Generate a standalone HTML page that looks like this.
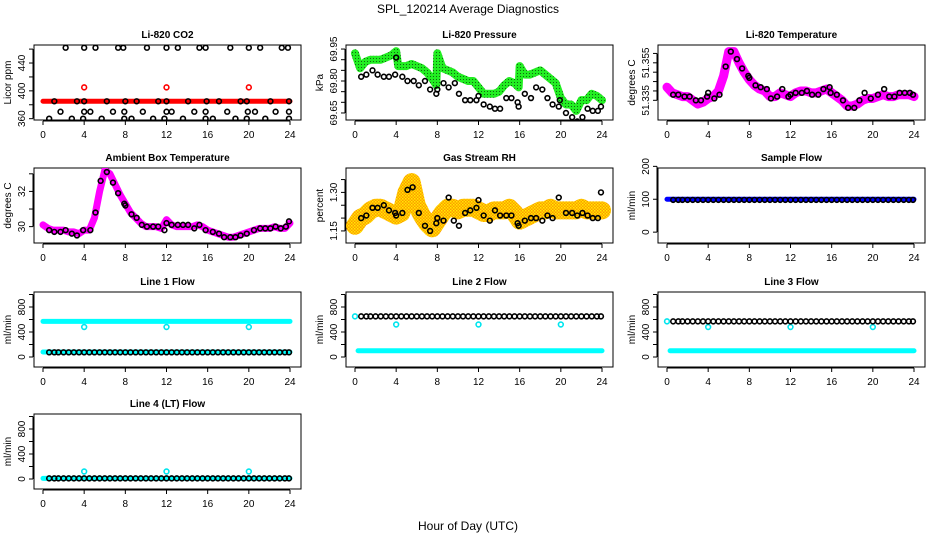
<!DOCTYPE html>
<html><head><meta charset="utf-8"><style>
html,body{margin:0;padding:0;background:#fff;}
svg{display:block;font-family:"Liberation Sans",sans-serif;}
</style></head><body>
<svg id="c" width="936" height="540" viewBox="0 0 936 540" xmlns="http://www.w3.org/2000/svg">
<defs>
<pattern id="rhpat" width="3" height="3" patternUnits="userSpaceOnUse"><rect width="3" height="3" fill="#ff9a00"/><rect width="1.5" height="1.5" fill="#ffee00"/><rect x="1.5" y="1.5" width="1.5" height="1.5" fill="#ffdd00"/></pattern>
<pattern id="grpat" width="3" height="3" patternUnits="userSpaceOnUse"><rect width="3" height="3" fill="#22ee22"/><rect x="1" y="1" width="1" height="1" fill="#116611"/></pattern>
</defs>
<text x="468" y="13" text-anchor="middle" font-size="12">SPL_120214  Average Diagnostics</text>
<text x="468" y="530" text-anchor="middle" font-size="12">Hour of Day (UTC)</text>
</svg>
<script>
const H = [0,0.5,1,1.5,2,2.5,3,3.5,4,4.5,5,5.5,6,6.5,7,7.5,8,8.5,9,9.5,10,10.5,11,11.5,12,12.5,13,13.5,14,14.5,15,15.5,16,16.5,17,17.5,18,18.5,19,19.5,20,20.5,21,21.5,22,22.5,23,23.5,24];
const xTicks = [0,4,8,12,16,20,24];

const co2Band = [385,385];
const co2BandHours = [0,24];
const co2OutHours = [4,12,20];
const co2OutVals = [405,405,405];
const co2Hours = [2.2,4,5.1,7.3,7.8,10.1,12,13.1,15.2,15.8,18.2,20,21.1,23.2,23.8, 1.1,3.3,4,6.2,8,9.1,11.2,12,14.1,15.9,17.1,19.2,19.8,22.1,23.9, 1.7,4,4.6,6.8,7.9,9.7,12,12.5,14.7,15.8,17.9,19.9,20.6,22.6,23.9, 0.6,2.8,3.9,5.7,7.9,8.6,10.7,11.8,13.6,15.8,16.5,18.7,19.8,21.6,23.9];
const co2Vals = [462,462,462,462,462,462,462,462,462,462,462,462,462,462,462, 385,385,385,385,385,385,385,385,385,385,385,385,385,385,385, 370,370,370,370,370,370,370,370,370,370,370,370,370,370,370, 360,360,360,360,360,360,360,360,360,360,360,360,360,360,360];

const presBandHours = [0,0.5,1,1.5,2,2.5,3,3.5,4,4.2,5,5.5,6,6.5,7,7.5,7.9,8,8.5,9,9.5,10,10.5,11,11.5,12,12.5,13,13.5,14,14.5,15,15.5,15.9,16,16.5,17,17.5,18,18.5,19,19.5,20,20.5,21,21.5,22,22.5,23,23.5,24];
const presBand = [69.93,69.86,69.89,69.90,69.90,69.90,69.91,69.92,69.94,69.87,69.87,69.88,69.87,69.86,69.84,69.81,69.78,69.93,69.86,69.85,69.84,69.82,69.81,69.80,69.80,69.77,69.74,69.74,69.74,69.75,69.78,69.80,69.79,69.77,69.87,69.83,69.83,69.84,69.85,69.83,69.81,69.79,69.72,69.69,69.69,69.66,69.71,69.71,69.74,69.73,69.71];
const presHours = [0.6,1.1,1.7,2.2,2.8,3.3,3.9,4,4.6,5.1,5.7,6.2,6.8,7.3,7.9,8,8.6,9.1,9.7,10.1,10.7,11.2,11.8,12,12.5,13.1,13.6,14.1,14.7,15.2,15.8,15.9,16.5,17.1,17.6,18.2,18.7,19.2,19.8,19.9,20.5,21.1,21.6,22.1,22.6,23.1,23.6,23.9];
const presVals = [69.82,69.83,69.85,69.83,69.82,69.82,69.83,69.91,69.82,69.80,69.80,69.78,69.80,69.76,69.74,69.76,69.79,69.77,69.79,69.74,69.71,69.71,69.71,69.73,69.69,69.68,69.67,69.67,69.72,69.72,69.70,69.68,69.74,69.72,69.77,69.76,69.72,69.69,69.68,69.71,69.65,69.63,69.61,69.63,69.67,69.66,69.66,69.68];

const tempBand = [51.342,51.339,51.338,51.337,51.337,51.335,51.333,51.334,51.336,51.337,51.340,51.348,51.361,51.361,51.355,51.350,51.346,51.343,51.341,51.340,51.337,51.337,51.339,51.338,51.337,51.339,51.340,51.340,51.339,51.339,51.340,51.341,51.339,51.337,51.335,51.332,51.332,51.333,51.335,51.336,51.336,51.337,51.338,51.337,51.337,51.338,51.338,51.338,51.337];
const tempHours = [0.6,1.1,1.7,2.2,2.8,3.3,3.9,4,4.6,5.1,5.7,6.2,6.8,7.3,7.9,8,8.6,9.1,9.7,10.1,10.7,11.2,11.8,12,12.5,13.1,13.6,14.1,14.7,15.2,15.8,15.9,16.5,17.1,17.6,18.2,18.7,19.2,19.8,20.5,21.1,21.6,22.1,22.6,23.1,23.6,23.9];
const tempVals = [51.338,51.338,51.337,51.337,51.335,51.335,51.337,51.339,51.336,51.338,51.353,51.361,51.357,51.352,51.348,51.347,51.343,51.342,51.341,51.336,51.337,51.341,51.337,51.338,51.339,51.339,51.340,51.338,51.338,51.341,51.342,51.339,51.338,51.335,51.331,51.331,51.335,51.339,51.336,51.338,51.341,51.337,51.337,51.339,51.339,51.339,51.338];

const ambBand = [30.1,29.9,29.8,29.8,29.8,29.7,29.7,29.6,29.8,29.8,30.5,32.0,33.2,33.0,32.4,31.8,31.3,30.8,30.5,30.2,30.0,30.0,30.0,29.9,30.4,30.1,30.0,30.0,30.0,30.0,30.1,30.0,29.8,29.7,29.6,29.5,29.4,29.4,29.5,29.6,29.7,29.8,29.9,29.9,29.9,30.0,29.9,29.9,30.2];
const ambHours = [0.6,1.1,1.7,2.2,2.8,3.3,3.9,4.6,5.1,5.6,6.2,6.8,7.3,7.9,8,8.6,9.1,9.6,10.1,10.7,11.2,11.8,12,12.5,13.1,13.6,14.1,14.7,15.2,15.8,16.5,17.1,17.6,18.2,18.7,19.2,19.8,20.5,21.1,21.6,22.1,22.6,23.1,23.6,23.9];
const ambVals = [29.8,29.7,29.7,29.8,29.6,29.5,29.8,29.8,30.8,32.6,33.1,32.5,31.9,31.3,31.2,30.7,30.5,30.1,30.0,30.0,30.0,29.8,30.2,30.1,30.1,30.1,30.1,29.9,30.1,29.8,29.7,29.6,29.4,29.4,29.4,29.5,29.6,29.8,29.9,29.9,29.9,30.0,29.9,30.0,30.3];

const rhBand = [1.17,1.20,1.21,1.23,1.24,1.24,1.23,1.22,1.21,1.22,1.30,1.34,1.25,1.21,1.18,1.16,1.19,1.22,1.24,1.24,1.23,1.24,1.24,1.24,1.23,1.22,1.22,1.23,1.23,1.23,1.24,1.22,1.19,1.20,1.21,1.22,1.23,1.23,1.24,1.23,1.23,1.23,1.23,1.23,1.24,1.23,1.23,1.23,1.23];
const rhHours = [0.6,1.1,1.7,2.2,2.8,3.3,3.9,4,4.6,5.1,5.6,6.2,6.8,7.3,7.9,8,8.6,9.1,9.6,10.1,10.7,11.2,11.8,12,12.5,13.1,13.6,14.1,14.7,15.2,15.8,15.9,16.5,17.1,17.6,18.2,18.7,19.2,19.8,20.5,21.1,21.6,22.1,22.6,23.1,23.6,23.9];
const rhVals = [1.20,1.21,1.24,1.24,1.25,1.23,1.22,1.21,1.22,1.31,1.32,1.22,1.17,1.15,1.18,1.20,1.19,1.28,1.19,1.17,1.22,1.23,1.24,1.27,1.21,1.19,1.23,1.21,1.21,1.21,1.18,1.17,1.19,1.20,1.20,1.19,1.21,1.20,1.28,1.22,1.22,1.21,1.22,1.21,1.20,1.20,1.30];

const flowHours = [0.6,1.1,1.5,2,2.5,3,3.5,4,4.5,5,5.5,6,6.5,7,7.5,8,8.5,9,9.5,10,10.5,11,11.5,12,12.5,13,13.5,14,14.5,15,15.5,16,16.5,17,17.5,18,18.5,19,19.5,20,20.5,21,21.5,22,22.5,23,23.5,23.9];
const outHours = [4,12,20];
const sampleBlue = 100, sampleBlack = 98;
const line1Cyan = [570, 80], line1Black = 75, line1Out = 480;
const line2Cyan = [100], line2Black = 650, line2Out = 520, line2Start = 650;
const line3Cyan = [100], line3Black = 570, line3Out = 480, line3Start = 570;
const line4Cyan = [10], line4Black = 10, line4Out = 120;

const svg = document.getElementById('c');
const NS = 'http://www.w3.org/2000/svg';
const tops = [45,168,292,414];
function mk(tag, attrs, parent){ const e=document.createElementNS(NS,tag); for(const k in attrs) e.setAttribute(k,attrs[k]); (parent||svg).appendChild(e); return e; }

function panel(col,row,name,title,ylab,vTop,vBot,ticks,labels){
  const g = mk('g',{});
  
  
  const L = col*312+34, R = col*312+301, T = tops[row], B = T+75;
  const xs = h => col*312+43 + h*247/24;
  const ys = v => T + (vTop - v)/(vTop - vBot)*75;
  const t = mk('text',{x:(L+R)/2, y:T-7, 'text-anchor':'middle','font-size':'10','font-weight':'bold'},g);
  t.textContent = title;
  
  
  const box = mk('rect',{x:L,y:T,width:R-L,height:75,fill:'none',stroke:'#000','stroke-width':1},g);
  
  
  const xa = mk('g',{},g);
  
  
  mk('line',{x1:xs(0),x2:xs(24),y1:B+1,y2:B+1,stroke:'#000'},xa);
  xTicks.forEach(v=>{ mk('line',{x1:xs(v),x2:xs(v),y1:B+1,y2:B+5,stroke:'#000'},xa);
    const tx = mk('text',{x:xs(v),y:B+18,'text-anchor':'middle','font-size':'10'},xa); tx.textContent=v; });
  const ya = mk('g',{},g);
  
  
  mk('line',{x1:L-1,x2:L-1,y1:ys(ticks[0]),y2:ys(ticks[ticks.length-1]),stroke:'#000'},ya);
  ticks.forEach(v=>{ mk('line',{x1:L-5,x2:L-1,y1:ys(v),y2:ys(v),stroke:'#000'},ya); });
  labels.forEach(v=>{ const y=ys(v[0]); const tx=mk('text',{x:L-9,y:y,'text-anchor':'middle','font-size':'10',transform:`rotate(-90 ${L-9} ${y})`},ya); tx.textContent=v[1]; });
  const yt = mk('text',{x:col*312+11,y:(T+B)/2,'text-anchor':'middle','font-size':'10',transform:`rotate(-90 ${col*312+11} ${(T+B)/2})`},g);
  yt.textContent = ylab;
  
  
  const clip = 'clip'+col+row;
  const cp = mk('clipPath',{id:clip},g); mk('rect',{x:L,y:T,width:R-L,height:75},cp);
  const d = mk('g',{'clip-path':`url(#${clip})`},g);
  
  
  return {xs,ys,d};
}
function band(p,hours,vals,color,w,name){
  const pts = hours.map((h,i)=>p.xs(h)+','+p.ys(vals[i])).join(' ');
  const e = mk('polyline',{points:pts,fill:'none',stroke:color,'stroke-width':w,'stroke-linejoin':'round','stroke-linecap':'round'},p.d);
  
  
  return e;
}
function pts(p,hours,vals,color,name,sw){
  hours.forEach((h,i)=>{
    const c = mk('circle',{cx:p.xs(h),cy:p.ys(vals[i]),r:2.4,fill:'none',stroke:color,'stroke-width':sw||1.6},p.d);
    
    
  });
}
const rep = (v,n)=>Array(n).fill(v);

let p = panel(0,0,'co2','Li-820 CO2','Licor ppm',465.9,358.1,[360,380,400,420,440,460],[[360,'360'],[400,'400'],[440,'440']]);
band(p,co2BandHours,co2Band,'#ff0000',5,'co2-red-series');
pts(p,co2OutHours,co2OutVals,'#ff0000','co2-red-point');
pts(p,co2Hours,co2Vals,'#000','co2-black-point');

p = panel(1,0,'pressure','Li-820 Pressure','kPa',69.969,69.617,[69.65,69.7,69.75,69.8,69.85,69.9,69.95],[[69.65,'69.65'],[69.8,'69.80'],[69.95,'69.95']]);
band(p,presBandHours,presBand,'url(#grpat)',8,'pressure-green-series');
pts(p,presHours,presVals,'#000','pressure-black-point');

p = panel(2,0,'li820-temp','Li-820 Temperature','degrees C',51.3645,51.3245,[51.335,51.34,51.345,51.35,51.355,51.36],[[51.335,'51.335'],[51.355,'51.355']]);
band(p,H,tempBand,'#ff00ff',9,'li820-temp-magenta-series');
pts(p,tempHours,tempVals,'#000','li820-temp-black-point');

p = panel(0,1,'ambient-temp','Ambient Box Temperature','degrees C',33.33,29.07,[30,31,32,33],[[30,'30'],[32,'32']]);
band(p,H,ambBand,'#ff00ff',7,'ambient-magenta-series');
pts(p,ambHours,ambVals,'#000','ambient-black-point');

p = panel(1,1,'rh','Gas Stream RH','percent',1.395,1.103,[1.15,1.2,1.25,1.3,1.35],[[1.15,'1.15'],[1.3,'1.30']]);
band(p,H,rhBand,'url(#rhpat)',18,'rh-orange-series');
pts(p,rhHours,rhVals,'#000','rh-black-point');

p = panel(2,1,'sample-flow','Sample Flow','ml/min',195,-33,[0,100,200],[[0,'0'],[100,'100'],[200,'200']]);
band(p,[0,24],rep(sampleBlue,2),'#0000ff',5,'sample-flow-blue-series');
pts(p,flowHours,rep(sampleBlack,flowHours.length),'#000','sample-flow-black-point');

const fT=[0,200,400,600,800,1000], fL=[[0,'0'],[400,'400'],[800,'800']];
p = panel(0,2,'line1-flow','Line 1 Flow','ml/min',1040,-160,fT,fL);
line1Cyan.forEach(v=>band(p,[0,24],[v,v],'#00ffff',5,'line1-cyan-series'));
pts(p,outHours,rep(line1Out,3),'#00e5ee','line1-cyan-point');
pts(p,flowHours,rep(line1Black,flowHours.length),'#000','line1-black-point');
p = panel(1,2,'line2-flow','Line 2 Flow','ml/min',1040,-160,fT,fL);
line2Cyan.forEach(v=>band(p,[0.3,24],[v,v],'#00ffff',5,'line2-cyan-series'));
pts(p,[0],[line2Start],'#00e5ee','line2-cyan-point');
pts(p,outHours,rep(line2Out,3),'#00e5ee','line2-cyan-point');
pts(p,flowHours,rep(line2Black,flowHours.length),'#000','line2-black-point');
p = panel(2,2,'line3-flow','Line 3 Flow','ml/min',1040,-160,fT,fL);
line3Cyan.forEach(v=>band(p,[0.3,24],[v,v],'#00ffff',5,'line3-cyan-series'));
pts(p,[0],[line3Start],'#00e5ee','line3-cyan-point');
pts(p,outHours,rep(line3Out,3),'#00e5ee','line3-cyan-point');
pts(p,flowHours,rep(line3Black,flowHours.length),'#000','line3-black-point');
p = panel(0,3,'line4-flow','Line 4 (LT) Flow','ml/min',1040,-160,fT,fL);
line4Cyan.forEach(v=>band(p,[0,24],[v,v],'#00ffff',5,'line4-cyan-series'));
pts(p,outHours,rep(line4Out,3),'#00e5ee','line4-cyan-point');
pts(p,flowHours,rep(line4Black,flowHours.length),'#000','line4-black-point');
</script>
</body></html>
